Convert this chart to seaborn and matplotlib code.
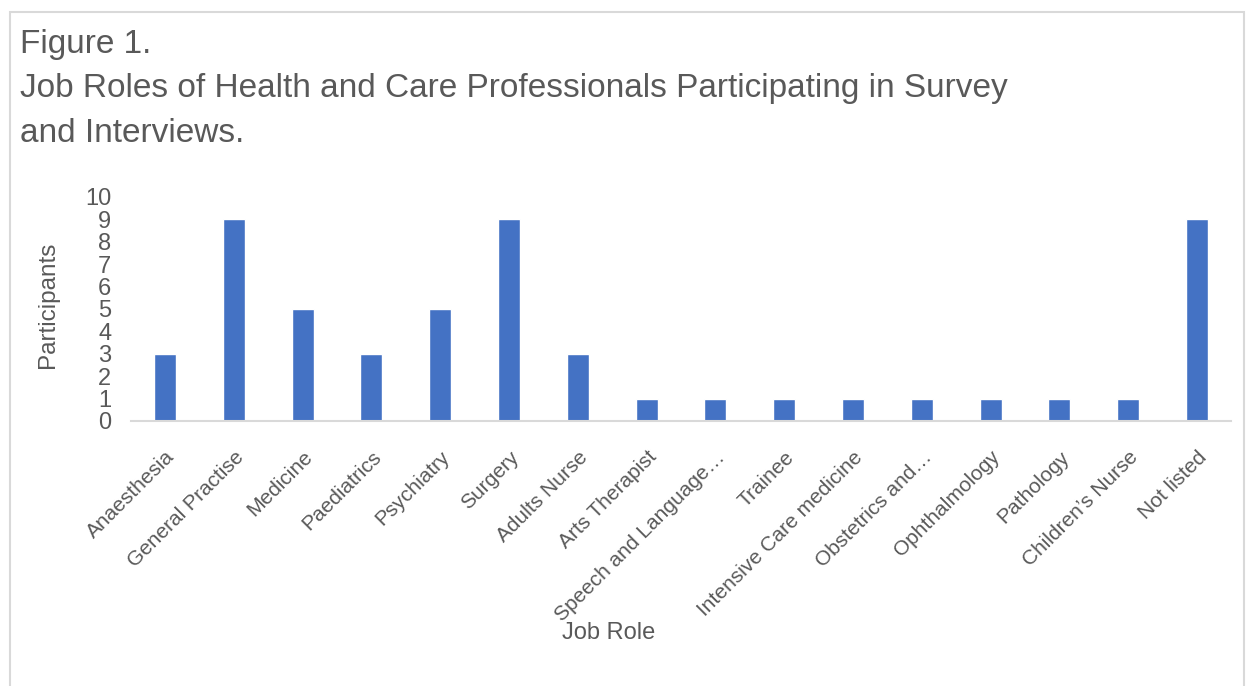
import matplotlib
matplotlib.use("Agg")
import matplotlib.pyplot as plt
import seaborn as sns
import pandas as pd
from matplotlib.patches import Rectangle

roles = ["Anaesthesia", "General Practise", "Medicine", "Paediatrics", "Psychiatry",
         "Surgery", "Adults Nurse", "Arts Therapist", "Speech and Language…", "Trainee",
         "Intensive Care medicine", "Obstetrics and…", "Ophthalmology", "Pathology",
         "Children’s Nurse", "Not listed"]
participants = [3, 9, 5, 3, 5, 9, 3, 1, 1, 1, 1, 1, 1, 1, 1, 9]
yticks = list(range(0, 11))

sns.set_theme(style="white")
plt.rcParams['font.family'] = ['Liberation Sans', 'DejaVu Sans']

TXT = "#595959"
df = pd.DataFrame({"role": roles, "n": participants})

fig = plt.figure(figsize=(12.46, 6.86), dpi=100)
# outer frame
fig.patches.append(Rectangle((10/1246, -0.05), (1244-10)/1246, 1 - 12/686 + 0.05,
                             transform=fig.transFigure, fill=False,
                             edgecolor="#D9D9D9", linewidth=1.5))

ax = fig.add_axes([130.6/1246, 1 - 421/686, (1231.4-130.6)/1246, (421-197)/686])
sns.barplot(data=df, x="role", y="n", color="#4472C4", saturation=1, width=0.32, ax=ax)
ax.set_ylim(0, 10)
ax.set_xlim(-0.5, len(roles) - 0.5)
ax.set_yticks(yticks)
ax.set_yticklabels([str(t) for t in yticks], fontsize=17, color=TXT)
ax.tick_params(axis='y', length=0, pad=14)
ax.tick_params(axis='x', length=0, pad=19)
ax.set_xticks(range(len(roles)))
ax.set_xticklabels(roles, rotation=45, ha='right', rotation_mode='anchor',
                   fontsize=15, color=TXT)
for s in ["top", "right", "left"]:
    ax.spines[s].set_visible(False)
ax.spines["bottom"].set_color("#D9D9D9")
ax.spines["bottom"].set_linewidth(1.5)
ax.set_xlabel("")
ax.set_ylabel("")

fig.text(48/1246, 1 - 305/686, "Participants", rotation=90, ha='center', va='center',
         fontsize=17.5, color=TXT)
fig.text(609/1246, 1 - 633/686, "Job Role", ha='center', va='center',
         fontsize=17, color=TXT)

fig.text(20/1246, 1 - 44/686, "Figure 1.", ha='left', va='center', fontsize=24, color=TXT)
fig.text(20/1246, 1 - 89/686, "Job Roles of Health and Care Professionals Participating in Survey",
         ha='left', va='center', fontsize=24, color=TXT)
fig.text(20/1246, 1 - 134/686, "and Interviews.", ha='left', va='center', fontsize=24, color=TXT)

fig.savefig("out.png", dpi=100, facecolor="white")
